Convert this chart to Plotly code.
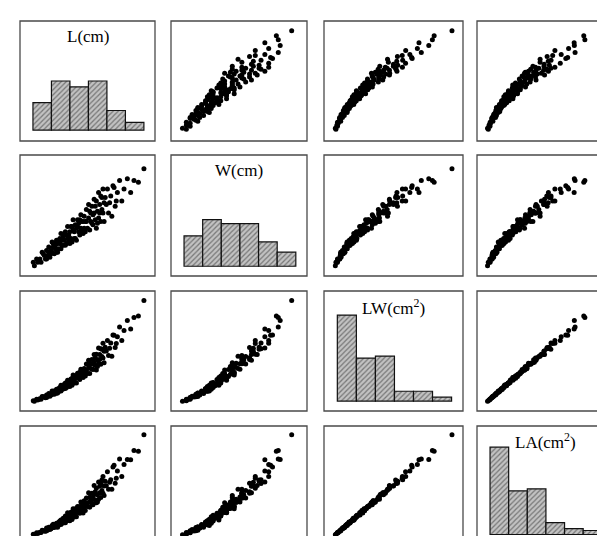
import plotly.graph_objects as go

# ---- data ----
L = [3.0, 3.1, 3.3, 3.4, 3.6, 3.7, 3.8, 4.0, 4.1, 4.2, 4.3, 4.4, 4.5, 4.6,
     4.7, 4.7, 4.8, 4.9, 4.9, 5.0, 5.1, 5.1, 5.2, 5.3, 5.3, 5.4, 5.5, 5.5, 5.6,
     5.7, 5.7, 5.8, 5.9, 5.9, 6.0, 6.1, 6.1, 6.2, 6.3,
     6.4, 6.4, 6.5, 6.6, 6.6, 6.7, 6.8, 6.9, 6.9, 7.0, 7.1, 7.1, 7.2, 7.3, 7.3,
     7.4, 7.5, 7.6, 7.6, 7.7, 7.8, 7.9,
     8.0, 8.0, 8.1, 8.2, 8.2, 8.3, 8.4, 8.4, 8.5, 8.6, 8.6, 8.7, 8.8, 8.9, 8.9,
     9.0, 9.1, 9.1, 9.2, 9.3, 9.3, 9.4, 9.5, 9.6,
     9.7, 9.8, 10.0, 10.1, 10.3, 10.5, 10.6, 10.8, 11.0, 11.2,
     11.5, 11.8, 12.1, 12.5, 13.0,
     3.5, 3.9, 4.2, 4.4, 4.6, 4.8, 5.0, 5.2, 5.4, 5.6, 5.8, 6.0, 6.2, 6.3,
     6.5, 6.7, 6.8, 7.0, 7.2, 7.4, 7.5, 7.7, 7.8, 8.1, 8.3, 8.5, 8.7, 8.8,
     9.0, 9.2, 9.4, 9.9, 10.2, 10.4]
W = [1.7, 1.5, 1.9, 1.7, 1.9, 1.7, 2.3, 2.1, 1.9, 2.4, 2.1, 2.6, 2.0, 2.4,
     2.3, 2.9, 2.6, 2.2, 2.8, 2.5, 2.3, 3.0, 2.8, 2.5, 3.0, 2.8, 2.5, 3.4, 3.0,
     3.2, 2.7, 3.0, 3.5, 2.7, 3.3, 3.1, 3.8, 2.9, 3.5,
     3.1, 3.8, 2.9, 3.6, 4.2, 3.1, 3.9, 3.0, 3.7, 4.2, 3.5, 4.0, 3.3, 4.5, 3.7,
     4.1, 3.4, 4.4, 3.7, 4.1, 4.8, 3.7,
     4.3, 5.1, 3.6, 4.6, 4.1, 5.0, 3.9, 4.5, 5.4, 4.2, 5.0, 3.7, 4.7, 5.8, 4.3,
     5.1, 4.1, 5.6, 4.8, 6.0, 4.6, 4.1, 5.5, 5.1,
     6.0, 4.6, 5.6, 4.4, 6.1, 5.3, 5.8, 6.5, 5.3, 6.0,
     6.6, 5.8, 6.5, 6.4, 7.2,
     1.8, 2.2, 1.9, 2.3, 2.2, 2.8, 2.7, 2.3, 3.1, 2.7, 3.4, 2.8, 3.3, 2.8,
     3.8, 3.5, 3.1, 3.8, 4.2, 3.6, 4.1, 3.5, 4.1, 4.7, 4.0, 4.6, 5.3, 4.0,
     4.6, 5.5, 5.2, 5.2, 6.2, 5.0]
LW = [5.10, 4.65, 6.27, 5.78, 6.84, 6.29, 8.74, 8.40, 7.79, 10.08, 9.03, 11.44, 9.00, 11.04,
      10.81, 13.63, 12.48, 10.78, 13.72, 12.50, 11.73, 15.30, 14.56, 13.25, 15.90, 15.12,
      13.75, 18.70, 16.80, 18.24, 15.39, 17.40, 20.65, 15.93, 19.80, 18.91, 23.18, 17.98, 22.05,
      19.84, 24.32, 18.85, 23.76, 27.72, 20.77, 26.52, 20.70, 25.53, 29.40, 24.85, 28.40,
      23.76, 32.85, 27.01, 30.34, 25.50, 33.44, 28.12, 31.57, 37.44, 29.23,
      34.40, 40.80, 29.16, 37.72, 33.62, 41.50, 32.76, 37.80, 45.90, 36.12, 43.00, 32.19,
      41.36, 51.62, 38.27, 45.90, 37.31, 50.96, 44.16, 55.80, 42.78, 38.54, 52.25, 48.96,
      58.20, 45.08, 56.00, 44.44, 62.83, 55.65, 61.48, 70.20, 58.30, 67.20,
      75.90, 68.44, 78.65, 80.00, 93.60,
      6.30, 8.58, 7.98, 10.12, 10.12, 13.44, 13.50, 11.96, 16.74, 15.12, 19.72, 16.80,
      20.46, 17.64, 24.70, 23.45, 21.08, 26.60, 30.24, 26.64, 30.75, 26.95, 31.98, 38.07,
      33.20, 39.10, 46.11, 35.20, 41.40, 50.60, 48.88, 51.48, 63.24, 52.00]
LA = [3.6, 3.2, 4.5, 4.0, 4.7, 4.6, 6.1, 5.6, 5.5, 7.5, 6.2, 8.0, 6.5, 7.5,
      7.6, 9.0, 9.1, 7.7, 9.5, 8.8, 8.3, 10.4, 10.5, 9.3, 11.0, 11.0, 9.6, 12.5, 11.9,
      13.5, 10.6, 12.2, 14.9, 10.8, 13.9, 12.5, 16.9, 12.8, 15.2,
      13.9, 17.3, 12.8, 17.1, 19.4, 14.3, 19.4, 14.5, 17.1, 20.9, 18.4, 19.6, 16.6, 23.7,
      18.4, 21.2, 16.8, 24.4, 20.0, 21.8, 26.2, 20.8,
      23.4, 29.4, 20.4, 26.0, 24.5, 29.1, 21.9, 26.8, 34.0, 24.9, 30.1, 23.2, 28.1, 36.1,
      25.3, 33.5, 26.5, 35.2, 30.9, 39.6, 29.1, 27.7, 36.6, 33.8,
      42.5, 31.6, 37.5, 31.6, 46.5, 38.4, 43.0, 50.5, 39.6, 47.0,
      50.1, 50.0, 55.8, 55.2, 65.5,
      4.5, 5.8, 5.7, 7.1, 7.0, 9.8, 9.5, 8.0, 11.9, 11.2, 13.6, 11.8, 14.7, 12.0,
      17.3, 15.5, 15.4, 18.9, 20.9, 18.6, 21.8, 18.3, 23.0, 26.6, 22.9, 28.5, 32.3, 23.6,
      29.4, 37.4, 33.7, 36.0, 45.5, 35.4]

var_names = ["L(cm)", "W(cm)", "LW(cm<sup>2</sup>)", "LA(cm<sup>2</sup>)"]

bins = [0, 1, 2, 3, 4, 5]
L_counts = [14, 25, 22, 25, 10, 4]
W_counts = [15, 23, 21, 21, 12, 7]
LW_counts = [44, 22, 23, 5, 5, 2]
LA_counts = [44, 22, 23, 6, 3, 2]

series = [L, W, LW, LA]
counts = [L_counts, W_counts, LW_counts, LA_counts]

# ---- layout geometry ----
FIG_W, FIG_H = 605, 536
col_px = [(12, 147), (163, 299), (316, 455), (469, 608)]
row_px = [(13, 133), (147, 268), (283, 403), (418, 538)]
var_ranges = [[1.8, 14.0], [0.9, 8.0], [-4.0, 102.0], [-2.5, 71.0]]
hist_yranges = [[-5.5, 55.5], [-4.8, 54.9], [-5.1, 56.3], [-4.8, 54.7]]
hist_xrange = [-1.2, 6.1]

fig = go.Figure()
layout = dict(width=FIG_W, height=FIG_H, margin=dict(l=0, r=0, t=0, b=0),
              paper_bgcolor="white", plot_bgcolor="white", showlegend=False,
              shapes=[], annotations=[])

def clamp(v):
    return max(0.0, min(1.0, v))

for i in range(4):
    for j in range(4):
        k = i * 4 + j + 1
        xa = "x" if k == 1 else f"x{k}"
        ya = "y" if k == 1 else f"y{k}"
        xd = [clamp(col_px[j][0] / FIG_W), clamp(col_px[j][1] / FIG_W)]
        yd = [clamp(1 - row_px[i][1] / FIG_H), clamp(1 - row_px[i][0] / FIG_H)]
        ax_common = dict(showgrid=False, zeroline=False, showticklabels=False,
                         ticks="", showline=False, fixedrange=True)
        if i == j:
            fig.add_trace(go.Bar(
                x=bins, y=counts[i], width=1.0, xaxis=xa, yaxis=ya,
                marker=dict(color="#b8b8b8",
                            line=dict(color="#111111", width=1.2),
                            pattern=dict(shape="/", fgcolor="#2e2e2e",
                                         bgcolor="#c2c2c2", size=3.6, solidity=0.35)),
            ))
            xr, yr = hist_xrange, hist_yranges[i]
            layout["annotations"].append(dict(
                text=var_names[i], x=0.5, y=0.87,
                xref=f"{xa} domain", yref=f"{ya} domain",
                xanchor="center", yanchor="middle", showarrow=False,
                font=dict(family="Liberation Serif", size=17, color="black")))
        else:
            fig.add_trace(go.Scatter(
                x=series[j], y=series[i], mode="markers", xaxis=xa, yaxis=ya,
                marker=dict(color="black", size=5, line=dict(width=0)),
            ))
            xr, yr = var_ranges[j], var_ranges[i]
        layout["xaxis" if k == 1 else f"xaxis{k}"] = dict(domain=xd, range=xr,
                                                          anchor=ya, **ax_common)
        layout["yaxis" if k == 1 else f"yaxis{k}"] = dict(domain=yd, range=yr,
                                                          anchor=xa, **ax_common)
        layout["shapes"].append(dict(
            type="rect", xref="paper", yref="paper",
            x0=col_px[j][0] / FIG_W, x1=col_px[j][1] / FIG_W,
            y0=1 - row_px[i][1] / FIG_H, y1=1 - row_px[i][0] / FIG_H,
            line=dict(color="#4a4a4a", width=1.3), fillcolor="rgba(0,0,0,0)"))

fig.update_layout(**layout)
fig.write_html("out.html")
